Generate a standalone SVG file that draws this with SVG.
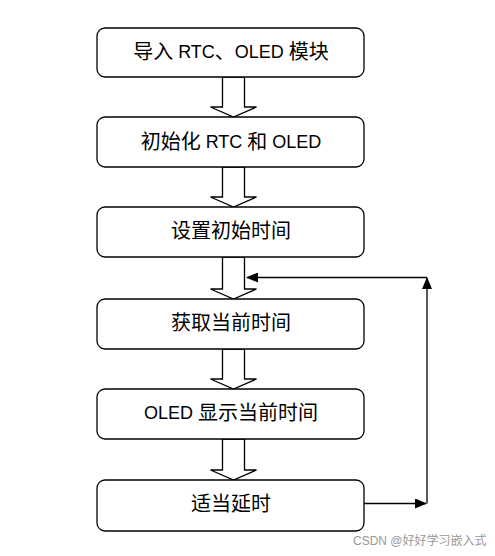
<svg xmlns="http://www.w3.org/2000/svg" width="495" height="556" viewBox="0 0 495 556">
<style>
.box{fill:#fff;stroke:#000;stroke-width:1.3}
.t{font-family:"Liberation Sans","Noto Sans CJK SC",sans-serif;font-size:20px;fill:#000;text-anchor:middle;dominant-baseline:central}
.l{font-size:18px}
.ha{fill:#fff;stroke:#000;stroke-width:1.3}
.ln{fill:none;stroke:#000;stroke-width:1.3}
.wm{font-family:"Liberation Sans","Noto Sans CJK SC",sans-serif;font-size:12px;fill:#999}
</style>
<defs>
<marker id="ah" markerWidth="12" markerHeight="10" refX="11" refY="5" orient="auto" markerUnits="userSpaceOnUse">
<path d="M0,0 L12,5 L0,10 Z" fill="#000"/>
</marker>
</defs>
<rect width="495" height="556" fill="#fff"/>
<g id="connectors">
<path class="ha" d="M222.5,77 V107 H210.5 L233.5,117 L256.5,107 H244.5 V77 Z"/>
<path class="ha" d="M222.5,167 V197 H210.5 L233.5,207 L256.5,197 H244.5 V167 Z"/>
<path class="ha" d="M222.5,257 V289 H210.5 L233.5,299 L256.5,289 H244.5 V257 Z"/>
<path class="ha" d="M222.5,349 V379 H210.5 L233.5,389 L256.5,379 H244.5 V349 Z"/>
<path class="ha" d="M222.5,439 V470 H210.5 L233.5,480 L256.5,470 H244.5 V439 Z"/>
<path class="ln" d="M364,503.5 H426" marker-end="url(#ah)"/>
<path class="ln" d="M427,503.5 V278" marker-end="url(#ah)"/>
<path class="ln" d="M427,277.5 H247" marker-end="url(#ah)"/>
</g>
<g id="n1"><rect class="box" x="97" y="28" width="267" height="49" rx="8"/><text class="t" x="231" y="52">导入<tspan class="l"> RTC</tspan>、<tspan class="l">OLED </tspan>模块</text></g>
<g id="n2"><rect class="box" x="97" y="117" width="267" height="50" rx="8"/><text class="t" x="231" y="142">初始化<tspan class="l"> RTC </tspan>和<tspan class="l"> OLED</tspan></text></g>
<g id="n3"><rect class="box" x="97" y="207" width="267" height="50" rx="8"/><text class="t" x="231" y="231">设置初始时间</text></g>
<g id="n4"><rect class="box" x="97" y="299" width="267" height="50" rx="8"/><text class="t" x="231" y="323">获取当前时间</text></g>
<g id="n5"><rect class="box" x="97" y="389" width="267" height="50" rx="8"/><text class="t" x="231" y="413"><tspan class="l">OLED </tspan>显示当前时间</text></g>
<g id="n6"><rect class="box" x="97" y="480" width="267" height="51" rx="8"/><text class="t" x="231" y="504">适当延时</text></g>
<text class="wm" x="353" y="545">CSDN @好好学习嵌入式</text>
</svg>
